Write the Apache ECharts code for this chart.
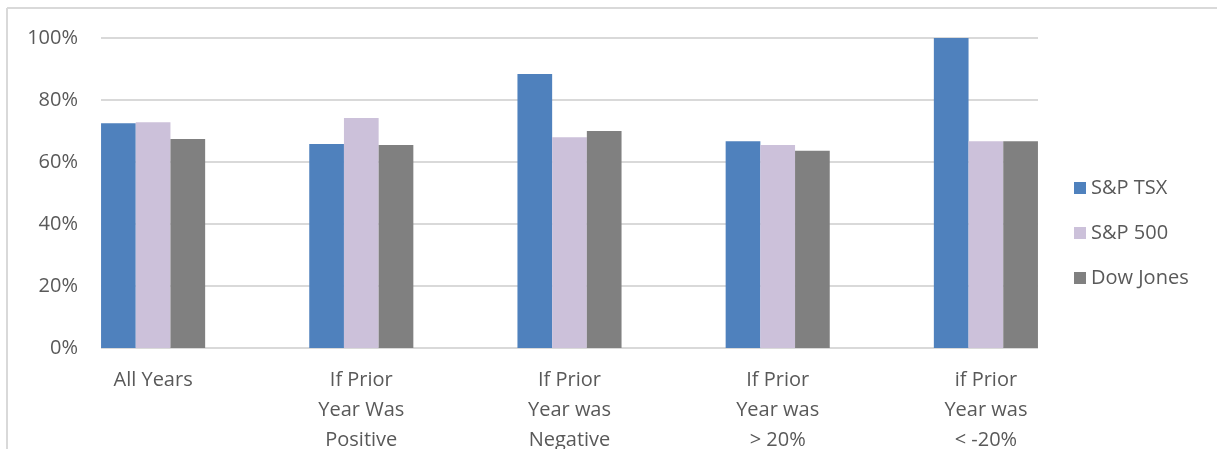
<!DOCTYPE html>
<html>
<head>
<meta charset="utf-8">
<script src="https://cdn.jsdelivr.net/npm/echarts@6/dist/echarts.min.js"></script>
<style>
  html, body { margin: 0; padding: 0; background: #fff; }
  #chart { width: 1217px; height: 449px; }
</style>
</head>
<body>
<div id="chart"></div>
<script>
// categories and values (share of years that were positive)
var categories = ['All Years', 'If Prior\nYear Was\nPositive', 'If Prior\nYear was\nNegative', 'If Prior\nYear was\n> 20%', 'if Prior\nYear was\n< -20%'];
var tsx = [0.725, 0.658, 0.884, 0.667, 1.0];
var sp500 = [0.728, 0.742, 0.680, 0.655, 0.667];
var dow = [0.674, 0.655, 0.700, 0.636, 0.667];
var yTicks = [0, 0.2, 0.4, 0.6, 0.8, 1];

var font = '"Open Sans", sans-serif';
var grey = '#595959';

var chart = echarts.init(document.getElementById('chart'));
var option = {
    animation: false,
    textStyle: { fontFamily: font },
    graphic: [
        { type: 'line', shape: { x1: 7, y1: 8, x2: 1217, y2: 8 }, style: { stroke: '#d9d9d9', lineWidth: 2 } },
        { type: 'line', shape: { x1: 7, y1: 8, x2: 7, y2: 449 }, style: { stroke: '#d9d9d9', lineWidth: 2 } }
    ],
    legend: {
        orient: 'vertical',
        left: 1069,
        top: 173,
        itemWidth: 12,
        itemHeight: 12,
        itemGap: 25,
        icon: 'rect',
        textStyle: { fontFamily: font, fontSize: 20, color: grey, lineHeight: 20 },
        data: ['S&P TSX', 'S&P 500', 'Dow Jones']
    },
    grid: [
        // grid for gridlines and percent labels
        { left: 101, width: 937, top: 38, height: 310, outerBoundsMode: 'none' },
        // grid for bars and category labels
        { left: 49, width: 1041, top: 38, height: 310, outerBoundsMode: 'none' }
    ],
    xAxis: [
        { gridIndex: 0, type: 'category', data: categories, show: false },
        {
            gridIndex: 1,
            type: 'category',
            data: categories,
            axisLine: { show: false },
            axisTick: { show: false },
            axisLabel: {
                margin: 17,
                fontFamily: font,
                fontSize: 20,
                lineHeight: 30,
                color: grey,
                align: 'center'
            }
        }
    ],
    yAxis: [
        {
            gridIndex: 0,
            type: 'value',
            min: yTicks[0],
            max: yTicks[yTicks.length - 1],
            interval: 0.2,
            axisLine: { show: false },
            axisTick: { show: false },
            splitLine: { lineStyle: { color: '#d9d9d9', width: 2 } },
            axisLabel: {
                margin: 23,
                fontFamily: font,
                fontSize: 20,
                color: grey,
                formatter: function (v) { return Math.round(v * 100) + '%'; }
            }
        },
        { gridIndex: 1, type: 'value', min: 0, max: 1, show: false }
    ],
    series: [
        {
            name: 'S&P TSX', type: 'bar', xAxisIndex: 1, yAxisIndex: 1,
            data: tsx, barGap: 0, barCategoryGap: '50%',
            itemStyle: { color: '#4f81bd' }
        },
        {
            name: 'S&P 500', type: 'bar', xAxisIndex: 1, yAxisIndex: 1,
            data: sp500, barGap: 0, barCategoryGap: '50%',
            itemStyle: { color: '#ccc1da' }
        },
        {
            name: 'Dow Jones', type: 'bar', xAxisIndex: 1, yAxisIndex: 1,
            data: dow, barGap: 0, barCategoryGap: '50%',
            itemStyle: { color: '#808080' }
        }
    ]
};
chart.setOption(option);
</script>
</body>
</html>
